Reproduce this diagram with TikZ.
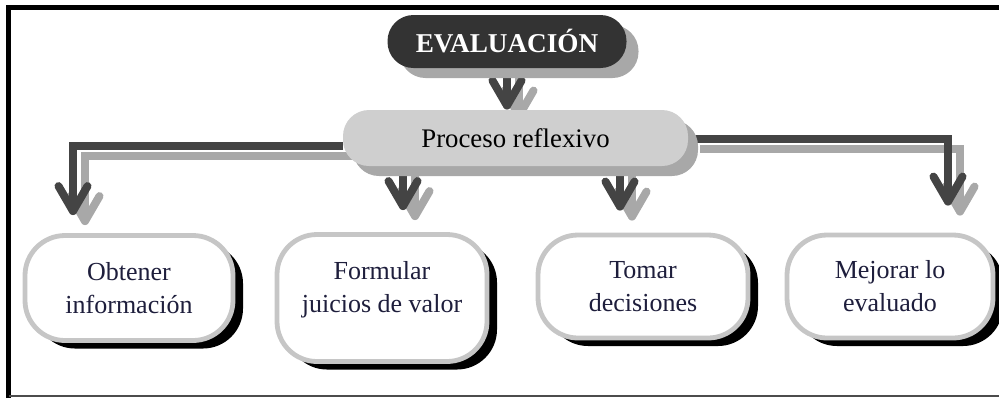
\documentclass[tikz,border=0pt]{standalone}
\usepackage{fontspec}
\setmainfont{Liberation Serif}
\usetikzlibrary{arrows.meta,calc,shadows}
\pgfdeclarelayer{background}
\pgfsetlayers{background,main}
\definecolor{darkbox}{HTML}{333333}
\definecolor{procgray}{HTML}{CFCFCF}
\definecolor{shadegray}{HTML}{A8A8A8}
\definecolor{linegray}{HTML}{444444}
\definecolor{rimgray}{HTML}{C6C6C6}
\definecolor{txtnavy}{HTML}{1E1E3C}

\begin{document}
\begin{tikzpicture}[x=0.5pt,y=-0.5pt,
  title/.style={fill=darkbox, text=white, rounded corners=13pt,
    minimum width=119.5pt, minimum height=26.5pt,
    font=\fontsize{13.6}{16}\selectfont\bfseries,
    general shadow={shadow xshift=6pt, shadow yshift=-5pt, fill=shadegray}},
  proc/.style={fill=procgray, rounded corners=13pt,
    minimum width=172.5pt, minimum height=28pt,
    font=\fontsize{13.4}{16}\selectfont,
    general shadow={shadow xshift=5pt, shadow yshift=-5pt, fill=shadegray}},
  leaf/.style={draw=rimgray, line width=2.4pt, fill=white, rounded corners=20pt,
    align=center, text=txtnavy, font=\fontsize{13}{16.5}\selectfont,
    general shadow={shadow xshift=5pt, shadow yshift=-4pt, fill=black}},
  conn/.style={draw=linegray, line width=4pt,
    -{Straight Barb[length=12.5pt,width=14.5pt,round]}},
  connshade/.style={conn, draw=shadegray}]

  \useasboundingbox (0,0) rectangle (999,398);

  % frame
  \draw[line width=2.5pt] (8.5,398) -- (8.5,7.5) -- (999,7.5);
  \draw[line width=0.6pt, black!70] (8.5,396) -- (999,396);

  % top of the tree
  \node[title] (eval) at (507,41.5) {EVALUACIÓN};
  \node[proc] (proc) at (515.5,138) {Proceso reflexivo};

  % the four results
  \node[leaf, minimum width=104pt, minimum height=52.5pt] (b1) at (129,288)
    {Obtener\\información};
  \node[leaf, minimum width=105pt, minimum height=63.5pt, text depth=11pt] (b2)
    at (382,298) {Formular\\juicios de valor};
  \node[leaf, minimum width=105pt, minimum height=51.5pt] (b3) at (643,286.5)
    {Tomar\\decisiones};
  \node[leaf, minimum width=103pt, minimum height=51.5pt] (b4) at (890,286.5)
    {Mejorar lo\\evaluado};

  % arrow ends
  \coordinate (t0) at (eval.south |- proc.north);
  \coordinate (t1) at ($(b1.north)+(-56,-18)$);
  \coordinate (t2) at ($(b2.north)+(21,-22)$);
  \coordinate (t3) at ($(b3.north)+(-23,-22)$);
  \coordinate (t4) at ($(b4.north)+(58,-27)$);

  \begin{pgfonlayer}{background}
    \begin{scope}[transform canvas={shift={(12,10)}}]
      \draw[connshade] (eval.south) -- (t0);
      \draw[connshade] ($(proc.west)+(0,8)$) -| (t1);
      \draw[connshade] (t2 |- proc.south) -- (t2);
      \draw[connshade] (t3 |- proc.south) -- (t3);
      \draw[connshade] ($(proc.east)+(0,1)$) -| (t4);
    \end{scope}
    \draw[conn] (eval.south) -- (t0);
    \draw[conn] ($(proc.west)+(0,8)$) -| (t1);
    \draw[conn] (t2 |- proc.south) -- (t2);
    \draw[conn] (t3 |- proc.south) -- (t3);
    \draw[conn] ($(proc.east)+(0,1)$) -| (t4);
  \end{pgfonlayer}
\end{tikzpicture}
\end{document}
